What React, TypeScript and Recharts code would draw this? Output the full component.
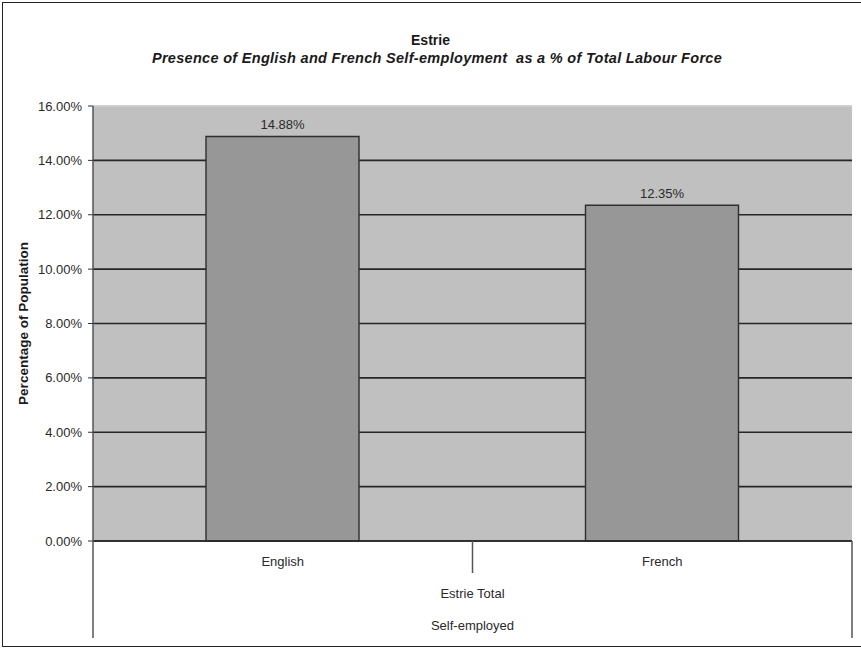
import React from "react";
import {
  BarChart,
  Bar,
  XAxis,
  YAxis,
  CartesianGrid,
  LabelList,
  ReferenceLine,
} from "recharts";

// Self-employment share by language group, Estrie
const categories = ["English", "French"];
const selfEmployedPct = [14.88, 12.35];
const yTicks = [0, 2, 4, 6, 8, 10, 12, 14, 16];
const yMax = 16;
const groupLabels = ["Estrie Total", "Self-employed"];

const data = categories.map((name, i) => ({ name, value: selfEmployedPct[i] }));

const FONT = '"Liberation Sans", Arial, sans-serif';
const TEXT = "#2a2a2a";

const fmtPct = (v: number) => `${Number(v).toFixed(2)}%`;

// Category tick: label plus the multi-level axis frame (band dividers and group rows)
const CategoryTick = (props: any) => {
  const { x, y, payload, index, visibleTicksCount } = props;
  const count = visibleTicksCount ?? categories.length;
  const half = payload?.offset ?? 0;
  const left = x - half;
  const right = x + half;
  const frameDepth = 97;
  return (
    <g>
      <text
        x={x}
        y={y + 25}
        textAnchor="middle"
        fontFamily={FONT}
        fontSize={13}
        fill={TEXT}
      >
        {payload.value}
      </text>
      <line
        x1={left}
        y1={y}
        x2={left}
        y2={y + (index === 0 ? frameDepth : 32)}
        stroke="#555"
        strokeWidth={1.5}
      />
      {index === count - 1 && (
        <line x1={right} y1={y} x2={right} y2={y + frameDepth} stroke="#555" strokeWidth={1.5} />
      )}
      {index === 0 &&
        groupLabels.map((g, gi) => (
          <text
            key={g}
            x={left + half * count}
            y={y + 57 + gi * 32}
            textAnchor="middle"
            fontFamily={FONT}
            fontSize={13}
            fill={TEXT}
          >
            {g}
          </text>
        ))}
    </g>
  );
};

export default function App() {
  return (
    <div
      style={{
        position: "absolute",
        left: 0,
        top: 0,
        width: 861,
        height: 649,
        background: "#fff",
        overflow: "hidden",
      }}
    >
      {/* frame */}
      <div
        style={{
          position: "absolute",
          left: 2,
          top: 2,
          width: 870,
          height: 645,
          borderLeft: "1.5px solid #222",
          borderTop: "1.5px solid #222",
          borderBottom: "1.5px solid #222",
          boxSizing: "border-box",
        }}
      />
      <div
        style={{
          position: "absolute",
          left: 0,
          width: 861,
          top: 31,
          textAlign: "center",
          fontFamily: FONT,
          fontWeight: "bold",
          color: "#1a1a1a",
          lineHeight: "18px",
        }}
      >
        <div style={{ fontSize: 14 }}>Estrie</div>
        <div
          style={{
            fontStyle: "italic",
            fontSize: 14.5,
            letterSpacing: 0.3,
            marginLeft: 13,
          }}
        >
          Presence of English and French Self-employment&nbsp; as a % of Total Labour Force
        </div>
      </div>
      <div style={{ position: "absolute", left: 0, top: 0 }}>
        <BarChart
          width={861}
          height={649}
          data={data}
          margin={{ top: 106, right: 9, bottom: 78, left: 10 }}
        >
          <CartesianGrid
            vertical={false}
            horizontal={true}
            fill="#c0c0c0"
            stroke="#262626"
            strokeWidth={1.6}
          />
          {/* plot top edge is a light rim, not a dark gridline */}
          <ReferenceLine y={yMax} stroke="#cfcfcf" strokeWidth={2} />
          <XAxis
            dataKey="name"
            height={30}
            tickLine={false}
            tickSize={0}
            tickMargin={0}
            axisLine={{ stroke: "#262626", strokeWidth: 1.6 }}
            tick={<CategoryTick />}
            interval={0}
          />
          <YAxis
            width={83}
            domain={[0, yMax]}
            ticks={yTicks}
            tickFormatter={fmtPct}
            tickSize={5}
            tickMargin={6}
            tickLine={{ stroke: "#333" }}
            axisLine={{ stroke: "#555", strokeWidth: 1.5 }}
            tick={{ fontFamily: FONT, fontSize: 13, fill: TEXT }}
            label={{
              value: "Percentage of Population",
              angle: -90,
              position: "insideLeft",
              offset: 13,
              style: {
                textAnchor: "middle",
                fontFamily: FONT,
                fontSize: 13.5,
                fontWeight: "bold",
                fill: "#1a1a1a",
              },
            }}
          />
          <Bar
            dataKey="value"
            fill="#979797"
            stroke="#2e2e2e"
            strokeWidth={1.4}
            barSize={153}
            isAnimationActive={false}
          >
            <LabelList
              dataKey="value"
              position="top"
              offset={7}
              formatter={(v: any) => fmtPct(v)}
              style={{ fontFamily: FONT, fontSize: 13, fill: TEXT }}
            />
          </Bar>
        </BarChart>
      </div>
    </div>
  );
}
